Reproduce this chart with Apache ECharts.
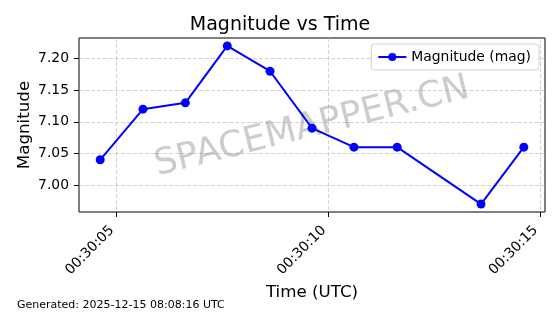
<!DOCTYPE html>
<html><head><meta charset="utf-8">
<script src="https://cdn.jsdelivr.net/npm/echarts@6/dist/echarts.min.js"></script>
<style>html,body{margin:0;padding:0;background:#fff}#c{width:560px;height:314px}</style>
</head><body><div id="c"></div>
<script>
// seconds after 00:30:00 UTC
const timesSec = [4.62, 5.63, 6.63, 7.62, 8.63, 9.62, 10.61, 11.63, 13.61, 14.62];
const magnitudes = [7.04, 7.12, 7.13, 7.22, 7.18, 7.09, 7.06, 7.06, 6.97, 7.06];
const xTicks = [5, 10, 15];
const yTicks = [7.00, 7.05, 7.10, 7.15, 7.20];
const seriesName = 'Magnitude (mag)';

function fmtTime(s){
  const m = 30, sec = Math.round(s);
  return '00:' + String(m).padStart(2,'0') + ':' + String(sec).padStart(2,'0');
}
const F = 'DejaVu Sans';
const gridLine = {show:true, lineStyle:{color:'#b0b0b0', type:[4,2], width:0.8, opacity:0.7}};
const chart = echarts.init(document.getElementById('c'), null, {renderer:'canvas'});
chart.setOption({
  animation:false,
  textStyle:{fontFamily:F},
  title:{text:'Magnitude vs Time', left:'center', top:11, textStyle:{fontFamily:F, fontSize:19, fontWeight:'normal', color:'#000'}},
  grid:{left:79, right:15, top:38, bottom:102, show:true, borderColor:'#000', borderWidth:1, backgroundColor:'transparent'},
  legend:{data:[{name:seriesName}], right:21, top:44, itemWidth:28, itemHeight:10, itemGap:6,
    borderColor:'#d0d0d0', borderWidth:1, borderRadius:3, padding:[6,8,6,6], backgroundColor:'rgba(255,255,255,0.8)',
    textStyle:{fontFamily:F, fontSize:13.9, color:'#000'}},
  xAxis:{type:'value', min:4.12, max:15.12,
    name:'Time (UTC)', nameLocation:'middle', nameGap:69, nameTextStyle:{fontFamily:F, fontSize:16.7, color:'#000'},
    axisLine:{show:false},
    axisTick:{show:true, customValues:xTicks, length:5, lineStyle:{color:'#000', width:1}},
    axisLabel:{customValues:xTicks, rotate:45, margin:12, padding:[0,6,0,0], formatter:fmtTime, fontFamily:F, fontSize:13.9, color:'#000'},
    splitLine:gridLine},
  yAxis:{type:'value', min:6.9575, max:7.2325,
    name:'Magnitude', nameLocation:'middle', nameGap:46, nameMoveOverlap:false, nameTextStyle:{fontFamily:F, fontSize:16.7, color:'#000'},
    axisLine:{show:false},
    axisTick:{show:true, customValues:yTicks, length:5, lineStyle:{color:'#000', width:1}},
    axisLabel:{customValues:yTicks, margin:10, formatter:v=>v.toFixed(2), fontFamily:F, fontSize:13.9, color:'#000'},
    splitLine:gridLine},
  graphic:[
    {type:'text', z:1, x:312, y:127, rotation:Math.PI*14/180,
     style:{text:'SPACEMAPPER.CN', font:'36px "DejaVu Sans"', fill:'rgba(128,128,128,0.4)', align:'center', verticalAlign:'middle'}},
    {type:'text', left:17, top:300, z:1,
     style:{text:'Generated: 2025-12-15 08:08:16 UTC', font:'11px "DejaVu Sans"', fill:'#000'}}
  ],
  series:[{name:seriesName, type:'line', data:timesSec.map((t,i)=>[t, magnitudes[i]]),
    symbol:'circle', symbolSize:9, z:5,
    lineStyle:{color:'#0000ff', width:2}, itemStyle:{color:'#0000ff'}}]
});
</script></body></html>
